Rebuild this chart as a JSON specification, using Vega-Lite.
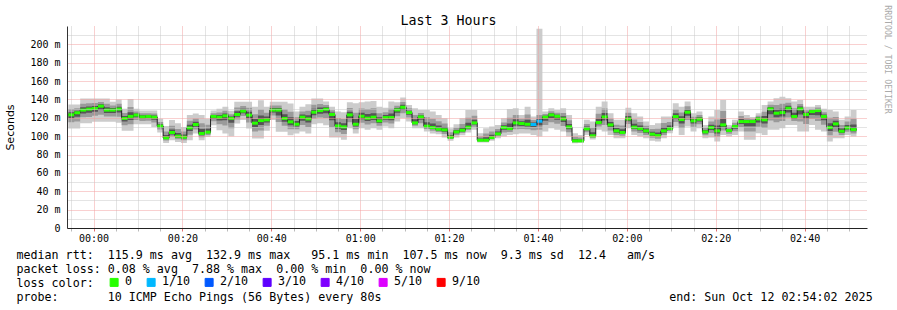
{
"$schema":"https://vega.github.io/schema/vega-lite/v6.json",
"width":800,"height":202,
"autosize":{"type":"none"},
"padding":{"left":67,"top":26,"right":30,"bottom":82},
"background":"white",
"config":{"view":{"stroke":null}},
"data":{"values":[
{"t":"2025-10-11T23:54:20Z","lo":108.4,"m1":115.1,"d1":119.6,"med":123.3,"d2":126.1,"m2":129.5,"hi":134.5,"loss":"0"},
{"t":"2025-10-11T23:55:40Z","lo":108.4,"m1":116.1,"d1":121.2,"med":125.5,"d2":127.8,"m2":130.5,"hi":134.5,"loss":"0"},
{"t":"2025-10-11T23:57:00Z","lo":114,"m1":120.5,"d1":124.8,"med":128.4,"d2":131.6,"m2":135.3,"hi":141,"loss":"0"},
{"t":"2025-10-11T23:58:20Z","lo":114,"m1":121,"d1":125.6,"med":129.5,"d2":132.4,"m2":135.8,"hi":141,"loss":"0"},
{"t":"2025-10-11T23:59:40Z","lo":115.6,"m1":122.2,"d1":126.6,"med":130.2,"d2":132.9,"m2":136.1,"hi":141,"loss":"0"},
{"t":"2025-10-12T00:01:00Z","lo":115.6,"m1":123.3,"d1":128.4,"med":132.7,"d2":134.8,"m2":137.3,"hi":141,"loss":"0"},
{"t":"2025-10-12T00:02:20Z","lo":115.6,"m1":121.4,"d1":125.2,"med":128.4,"d2":131.6,"m2":135.3,"hi":141,"loss":"0"},
{"t":"2025-10-12T00:03:40Z","lo":115.6,"m1":121.4,"d1":125.2,"med":128.4,"d2":130.7,"m2":133.4,"hi":137.5,"loss":"0"},
{"t":"2025-10-12T00:05:00Z","lo":114.5,"m1":121.3,"d1":125.8,"med":129.5,"d2":132.1,"m2":135.3,"hi":140,"loss":"0"},
{"t":"2025-10-12T00:06:20Z","lo":105.8,"m1":111.9,"d1":115.9,"med":119.3,"d2":122,"m2":125.2,"hi":130,"loss":"0"},
{"t":"2025-10-12T00:07:40Z","lo":105.8,"m1":112.9,"d1":117.6,"med":121.5,"d2":126.2,"m2":131.9,"hi":140.4,"loss":"0"},
{"t":"2025-10-12T00:09:00Z","lo":113,"m1":117.5,"d1":120.5,"med":123,"d2":124.8,"m2":126.9,"hi":130,"loss":"0"},
{"t":"2025-10-12T00:10:20Z","lo":113,"m1":116.6,"d1":119,"med":121,"d2":122.8,"m2":124.9,"hi":128,"loss":"0"},
{"t":"2025-10-12T00:11:40Z","lo":113,"m1":116.8,"d1":119.4,"med":121.5,"d2":123.1,"m2":125.1,"hi":128,"loss":"0"},
{"t":"2025-10-12T00:13:00Z","lo":110,"m1":114.8,"d1":118,"med":120.7,"d2":122.5,"m2":124.7,"hi":128,"loss":"0"},
{"t":"2025-10-12T00:14:20Z","lo":104,"m1":107.2,"d1":109.3,"med":111,"d2":113,"m2":115.4,"hi":119,"loss":"0"},
{"t":"2025-10-12T00:15:40Z","lo":92.7,"m1":95.2,"d1":96.8,"med":98.2,"d2":101.4,"m2":105.2,"hi":111,"loss":"0"},
{"t":"2025-10-12T00:17:00Z","lo":95.6,"m1":99.4,"d1":101.9,"med":104,"d2":107.4,"m2":111.4,"hi":117.5,"loss":"0"},
{"t":"2025-10-12T00:18:20Z","lo":93.8,"m1":96.6,"d1":98.5,"med":100,"d2":103.5,"m2":107.7,"hi":114,"loss":"0"},
{"t":"2025-10-12T00:19:40Z","lo":92.7,"m1":95.5,"d1":97.4,"med":98.9,"d2":101.7,"m2":105,"hi":110,"loss":"0"},
{"t":"2025-10-12T00:21:00Z","lo":95.6,"m1":101.6,"d1":105.7,"med":109,"d2":112.5,"m2":116.7,"hi":123,"loss":"0"},
{"t":"2025-10-12T00:22:20Z","lo":103,"m1":107.4,"d1":110.3,"med":112.7,"d2":115.7,"m2":119.3,"hi":124.7,"loss":"0"},
{"t":"2025-10-12T00:23:40Z","lo":95.6,"m1":98.9,"d1":101.1,"med":102.9,"d2":107.9,"m2":114,"hi":123,"loss":"0"},
{"t":"2025-10-12T00:25:00Z","lo":99,"m1":101.4,"d1":103.1,"med":104.4,"d2":108.1,"m2":112.4,"hi":119,"loss":"0"},
{"t":"2025-10-12T00:26:20Z","lo":112,"m1":116.3,"d1":119.1,"med":121.5,"d2":123.1,"m2":125.1,"hi":128,"loss":"0"},
{"t":"2025-10-12T00:27:40Z","lo":106.5,"m1":112.9,"d1":117.2,"med":120.7,"d2":123,"m2":125.8,"hi":130,"loss":"0"},
{"t":"2025-10-12T00:29:00Z","lo":103,"m1":111.6,"d1":117.4,"med":122.2,"d2":124.7,"m2":127.6,"hi":132,"loss":"0"},
{"t":"2025-10-12T00:30:20Z","lo":100,"m1":108.7,"d1":114.5,"med":119.3,"d2":121.4,"m2":123.9,"hi":127.6,"loss":"0"},
{"t":"2025-10-12T00:31:40Z","lo":113.8,"m1":118.2,"d1":121.2,"med":123.6,"d2":127.1,"m2":131.2,"hi":137.5,"loss":"0"},
{"t":"2025-10-12T00:33:00Z","lo":117.5,"m1":121.9,"d1":124.9,"med":127.3,"d2":129.9,"m2":132.9,"hi":137.5,"loss":"0"},
{"t":"2025-10-12T00:34:20Z","lo":108.4,"m1":114.9,"d1":119.3,"med":122.9,"d2":126.6,"m2":130.9,"hi":137.5,"loss":"0"},
{"t":"2025-10-12T00:35:40Z","lo":97.5,"m1":105,"d1":110,"med":114.2,"d2":118.7,"m2":124,"hi":132,"loss":"0"},
{"t":"2025-10-12T00:37:00Z","lo":97.5,"m1":106.3,"d1":112.1,"med":117,"d2":122.5,"m2":129.1,"hi":139,"loss":"0"},
{"t":"2025-10-12T00:38:20Z","lo":106,"m1":111.3,"d1":114.9,"med":117.8,"d2":121.4,"m2":125.6,"hi":132,"loss":"0"},
{"t":"2025-10-12T00:39:40Z","lo":117.5,"m1":122.4,"d1":125.7,"med":128.4,"d2":130.7,"m2":133.4,"hi":137.5,"loss":"0"},
{"t":"2025-10-12T00:41:00Z","lo":104.7,"m1":115.4,"d1":122.5,"med":128.4,"d2":130.7,"m2":133.4,"hi":137.5,"loss":"0"},
{"t":"2025-10-12T00:42:20Z","lo":104.7,"m1":111.3,"d1":115.7,"med":119.3,"d2":123.9,"m2":129.3,"hi":137.5,"loss":"0"},
{"t":"2025-10-12T00:43:40Z","lo":101,"m1":107.6,"d1":112,"med":115.6,"d2":120.6,"m2":126.6,"hi":135.6,"loss":"0"},
{"t":"2025-10-12T00:45:00Z","lo":103,"m1":107.5,"d1":110.5,"med":113,"d2":116.5,"m2":120.6,"hi":126.8,"loss":"0"},
{"t":"2025-10-12T00:46:20Z","lo":105,"m1":112.1,"d1":116.8,"med":120.7,"d2":123.5,"m2":126.9,"hi":132,"loss":"0"},
{"t":"2025-10-12T00:47:40Z","lo":103,"m1":110.1,"d1":114.9,"med":118.8,"d2":122.8,"m2":127.6,"hi":134.8,"loss":"0"},
{"t":"2025-10-12T00:49:00Z","lo":113,"m1":118.9,"d1":122.8,"med":126.1,"d2":129.8,"m2":134.3,"hi":141,"loss":"0"},
{"t":"2025-10-12T00:50:20Z","lo":114,"m1":120.3,"d1":124.4,"med":127.9,"d2":131.2,"m2":135.1,"hi":141,"loss":"0"},
{"t":"2025-10-12T00:51:40Z","lo":112,"m1":119.8,"d1":125,"med":129.3,"d2":131.4,"m2":133.9,"hi":137.7,"loss":"0"},
{"t":"2025-10-12T00:53:00Z","lo":98.5,"m1":109.8,"d1":117.3,"med":123.6,"d2":125.7,"m2":128.2,"hi":132,"loss":"0"},
{"t":"2025-10-12T00:54:20Z","lo":98.5,"m1":104.2,"d1":108,"med":111.2,"d2":115.1,"m2":119.8,"hi":126.8,"loss":"0"},
{"t":"2025-10-12T00:55:40Z","lo":96,"m1":102.3,"d1":106.6,"med":110.1,"d2":114.1,"m2":118.8,"hi":126,"loss":"0"},
{"t":"2025-10-12T00:57:00Z","lo":108.7,"m1":115.2,"d1":119.6,"med":123.2,"d2":126.7,"m2":130.8,"hi":137,"loss":"0"},
{"t":"2025-10-12T00:58:20Z","lo":103,"m1":107.5,"d1":110.5,"med":113,"d2":118.7,"m2":125.5,"hi":135.8,"loss":"0"},
{"t":"2025-10-12T00:59:40Z","lo":108.7,"m1":114.5,"d1":118.5,"med":121.7,"d2":125.5,"m2":130.1,"hi":137,"loss":"0"},
{"t":"2025-10-12T01:01:00Z","lo":107,"m1":112.7,"d1":116.5,"med":119.6,"d2":124.1,"m2":129.6,"hi":137.7,"loss":"0"},
{"t":"2025-10-12T01:02:20Z","lo":108.7,"m1":114.1,"d1":117.7,"med":120.7,"d2":125.1,"m2":130.4,"hi":138.4,"loss":"0"},
{"t":"2025-10-12T01:03:40Z","lo":107,"m1":111.4,"d1":114.3,"med":116.7,"d2":120.5,"m2":125.1,"hi":132,"loss":"0"},
{"t":"2025-10-12T01:05:00Z","lo":110.5,"m1":114.9,"d1":117.9,"med":120.3,"d2":123,"m2":126.2,"hi":131,"loss":"0"},
{"t":"2025-10-12T01:06:20Z","lo":108.7,"m1":113.9,"d1":117.4,"med":120.3,"d2":124.7,"m2":129.9,"hi":137.7,"loss":"0"},
{"t":"2025-10-12T01:07:40Z","lo":116,"m1":121.7,"d1":125.4,"med":128.6,"d2":130.7,"m2":133.2,"hi":137,"loss":"0"},
{"t":"2025-10-12T01:09:00Z","lo":119.6,"m1":125,"d1":128.5,"med":131.5,"d2":134.1,"m2":137.3,"hi":142,"loss":"0"},
{"t":"2025-10-12T01:10:20Z","lo":116,"m1":120.4,"d1":123.3,"med":125.7,"d2":127.8,"m2":130.3,"hi":134,"loss":"0"},
{"t":"2025-10-12T01:11:40Z","lo":108.7,"m1":111.3,"d1":113.1,"med":114.5,"d2":118.5,"m2":123.2,"hi":130.4,"loss":"0"},
{"t":"2025-10-12T01:13:00Z","lo":108.7,"m1":114.2,"d1":117.9,"med":121,"d2":122.9,"m2":125.2,"hi":128.6,"loss":"0"},
{"t":"2025-10-12T01:14:20Z","lo":105,"m1":107.7,"d1":109.4,"med":110.9,"d2":115.3,"m2":120.6,"hi":128.6,"loss":"0"},
{"t":"2025-10-12T01:15:40Z","lo":103,"m1":105.9,"d1":107.8,"med":109.4,"d2":113.8,"m2":119,"hi":126.8,"loss":"0"},
{"t":"2025-10-12T01:17:00Z","lo":102,"m1":104.5,"d1":106.2,"med":107.6,"d2":111.5,"m2":116.2,"hi":123.2,"loss":"0"},
{"t":"2025-10-12T01:18:20Z","lo":98.5,"m1":102.3,"d1":104.8,"med":106.9,"d2":110.1,"m2":113.9,"hi":119.6,"loss":"0"},
{"t":"2025-10-12T01:19:40Z","lo":95,"m1":96.8,"d1":97.9,"med":98.9,"d2":101.4,"m2":104.3,"hi":108.7,"loss":"0"},
{"t":"2025-10-12T01:21:00Z","lo":98.5,"m1":101.3,"d1":103.2,"med":104.7,"d2":106.8,"m2":109.3,"hi":113,"loss":"0"},
{"t":"2025-10-12T01:22:20Z","lo":101,"m1":103.5,"d1":105.1,"med":106.5,"d2":109.8,"m2":113.4,"hi":119.6,"loss":"0"},
{"t":"2025-10-12T01:23:40Z","lo":104,"m1":106.6,"d1":108.4,"med":109.8,"d2":114.5,"m2":120.1,"hi":128.6,"loss":"0"},
{"t":"2025-10-12T01:25:00Z","lo":107,"m1":110.4,"d1":112.6,"med":114.5,"d2":118,"m2":122.3,"hi":128.6,"loss":"0"},
{"t":"2025-10-12T01:26:20Z","lo":93,"m1":94.2,"d1":95,"med":95.6,"d2":97.5,"m2":99.8,"hi":103.3,"loss":"0"},
{"t":"2025-10-12T01:27:40Z","lo":93,"m1":94.2,"d1":95,"med":95.6,"d2":98.9,"m2":102.8,"hi":108.7,"loss":"0"},
{"t":"2025-10-12T01:29:00Z","lo":95,"m1":96.6,"d1":97.6,"med":98.5,"d2":101.5,"m2":105.1,"hi":110.5,"loss":"0"},
{"t":"2025-10-12T01:30:20Z","lo":97.8,"m1":99.9,"d1":101.3,"med":102.5,"d2":105,"m2":107.9,"hi":112.3,"loss":"0"},
{"t":"2025-10-12T01:31:40Z","lo":99.6,"m1":104,"d1":107,"med":109.4,"d2":112,"m2":115,"hi":119.6,"loss":"0"},
{"t":"2025-10-12T01:33:00Z","lo":101.4,"m1":104.5,"d1":106.6,"med":108.3,"d2":113.7,"m2":120.1,"hi":129.7,"loss":"0"},
{"t":"2025-10-12T01:34:20Z","lo":102,"m1":107.6,"d1":111.4,"med":114.5,"d2":118.5,"m2":123.2,"hi":130.4,"loss":"0"},
{"t":"2025-10-12T01:35:40Z","lo":103,"m1":107.9,"d1":111.1,"med":113.8,"d2":116.2,"m2":119,"hi":123.2,"loss":"0"},
{"t":"2025-10-12T01:37:00Z","lo":103,"m1":107.5,"d1":110.5,"med":113,"d2":117.8,"m2":123.5,"hi":132,"loss":"0"},
{"t":"2025-10-12T01:38:20Z","lo":101.4,"m1":106.5,"d1":109.9,"med":112.7,"d2":114.9,"m2":117.5,"hi":121.4,"loss":"1/10"},
{"t":"2025-10-12T01:39:40Z","lo":99.6,"m1":107,"d1":112,"med":116.3,"d2":119,"m2":123,"hi":217,"loss":"1/10"},
{"t":"2025-10-12T01:41:00Z","lo":105,"m1":112.1,"d1":116.8,"med":120.7,"d2":122.2,"m2":124.1,"hi":126.8,"loss":"0"},
{"t":"2025-10-12T01:42:20Z","lo":108.7,"m1":115.2,"d1":119.6,"med":123.2,"d2":125,"m2":127.2,"hi":130.4,"loss":"0"},
{"t":"2025-10-12T01:43:40Z","lo":107,"m1":113.6,"d1":118,"med":121.7,"d2":123.4,"m2":125.5,"hi":128.6,"loss":"0"},
{"t":"2025-10-12T01:45:00Z","lo":105,"m1":111.2,"d1":115.4,"med":118.8,"d2":121.7,"m2":125.2,"hi":130.4,"loss":"0"},
{"t":"2025-10-12T01:46:20Z","lo":99.6,"m1":104.3,"d1":107.5,"med":110.1,"d2":113.4,"m2":117.3,"hi":123.2,"loss":"0"},
{"t":"2025-10-12T01:47:40Z","lo":92.4,"m1":93.5,"d1":94.3,"med":94.9,"d2":97,"m2":99.5,"hi":103.3,"loss":"0"},
{"t":"2025-10-12T01:49:00Z","lo":92.5,"m1":93.6,"d1":94.3,"med":94.9,"d2":96.5,"m2":98.5,"hi":101.4,"loss":"0"},
{"t":"2025-10-12T01:50:20Z","lo":101.4,"m1":104.4,"d1":106.4,"med":108,"d2":110.5,"m2":113.4,"hi":117.8,"loss":"0"},
{"t":"2025-10-12T01:51:40Z","lo":96.5,"m1":98.3,"d1":99.4,"med":100.4,"d2":104.3,"m2":109,"hi":116,"loss":"0"},
{"t":"2025-10-12T01:53:00Z","lo":107,"m1":110.6,"d1":112.9,"med":114.9,"d2":119.2,"m2":124.3,"hi":132,"loss":"0"},
{"t":"2025-10-12T01:54:20Z","lo":105,"m1":112.2,"d1":117,"med":121,"d2":125.2,"m2":130.2,"hi":137.7,"loss":"0"},
{"t":"2025-10-12T01:55:40Z","lo":101.4,"m1":106.3,"d1":109.6,"med":112.3,"d2":115.5,"m2":119.3,"hi":125,"loss":"0"},
{"t":"2025-10-12T01:57:00Z","lo":97.8,"m1":101.4,"d1":103.8,"med":105.8,"d2":108.8,"m2":112.4,"hi":117.8,"loss":"0"},
{"t":"2025-10-12T01:58:20Z","lo":97.8,"m1":100.6,"d1":102.5,"med":104,"d2":107.5,"m2":111.6,"hi":117.8,"loss":"0"},
{"t":"2025-10-12T01:59:40Z","lo":108.7,"m1":113.2,"d1":116.3,"med":118.8,"d2":121.9,"m2":125.5,"hi":131,"loss":"0"},
{"t":"2025-10-12T02:01:00Z","lo":101.4,"m1":105.2,"d1":107.7,"med":109.8,"d2":113.6,"m2":118.2,"hi":125,"loss":"0"},
{"t":"2025-10-12T02:02:20Z","lo":99.6,"m1":103.5,"d1":106.1,"med":108.3,"d2":111.6,"m2":115.5,"hi":121.4,"loss":"0"},
{"t":"2025-10-12T02:03:40Z","lo":97.8,"m1":101.4,"d1":103.8,"med":105.8,"d2":108.4,"m2":111.4,"hi":116,"loss":"0"},
{"t":"2025-10-12T02:05:00Z","lo":95,"m1":98.2,"d1":100.4,"med":102.2,"d2":104.7,"m2":107.8,"hi":112.3,"loss":"0"},
{"t":"2025-10-12T02:06:20Z","lo":94.2,"m1":97.1,"d1":99.1,"med":100.7,"d2":104,"m2":108,"hi":114,"loss":"0"},
{"t":"2025-10-12T02:07:40Z","lo":97.8,"m1":101.4,"d1":103.8,"med":105.8,"d2":109.7,"m2":114.4,"hi":121.4,"loss":"0"},
{"t":"2025-10-12T02:09:00Z","lo":103.3,"m1":105.6,"d1":107.1,"med":108.3,"d2":111.6,"m2":115.5,"hi":121.4,"loss":"0"},
{"t":"2025-10-12T02:10:20Z","lo":110.5,"m1":115.4,"d1":118.7,"med":121.4,"d2":125,"m2":129.3,"hi":135.8,"loss":"0"},
{"t":"2025-10-12T02:11:40Z","lo":101.4,"m1":108.9,"d1":113.9,"med":118.1,"d2":121.6,"m2":125.7,"hi":132,"loss":"0"},
{"t":"2025-10-12T02:13:00Z","lo":110.5,"m1":117.5,"d1":122.2,"med":126.1,"d2":129,"m2":132.5,"hi":137.7,"loss":"0"},
{"t":"2025-10-12T02:14:20Z","lo":105,"m1":110.3,"d1":113.8,"med":116.7,"d2":118.8,"m2":121.3,"hi":125,"loss":"0"},
{"t":"2025-10-12T02:15:40Z","lo":108.7,"m1":113.1,"d1":116.1,"med":118.5,"d2":120.6,"m2":123.1,"hi":126.8,"loss":"0"},
{"t":"2025-10-12T02:17:00Z","lo":97.8,"m1":100.9,"d1":103,"med":104.7,"d2":106.6,"m2":108.9,"hi":112.3,"loss":"0"},
{"t":"2025-10-12T02:18:20Z","lo":98.5,"m1":103.4,"d1":106.7,"med":109.4,"d2":112.4,"m2":116,"hi":121.4,"loss":"0"},
{"t":"2025-10-12T02:19:40Z","lo":94.2,"m1":99.4,"d1":102.9,"med":105.8,"d2":111.5,"m2":118.3,"hi":128.6,"loss":"0"},
{"t":"2025-10-12T02:21:00Z","lo":101.4,"m1":106.3,"d1":109.6,"med":112.3,"d2":119.1,"m2":127.3,"hi":139.5,"loss":"0"},
{"t":"2025-10-12T02:22:20Z","lo":99.6,"m1":102.6,"d1":104.6,"med":106.2,"d2":107.7,"m2":109.6,"hi":112.3,"loss":"0"},
{"t":"2025-10-12T02:23:40Z","lo":101.4,"m1":105.5,"d1":108.2,"med":110.5,"d2":112.3,"m2":114.5,"hi":117.8,"loss":"0"},
{"t":"2025-10-12T02:25:00Z","lo":105,"m1":109.9,"d1":113.2,"med":115.9,"d2":118.6,"m2":121.9,"hi":126.8,"loss":"0"},
{"t":"2025-10-12T02:26:20Z","lo":96,"m1":105,"d1":110.9,"med":115.9,"d2":117.7,"m2":119.9,"hi":123.2,"loss":"0"},
{"t":"2025-10-12T02:27:40Z","lo":96,"m1":105,"d1":110.9,"med":115.9,"d2":117.2,"m2":118.8,"hi":121,"loss":"0"},
{"t":"2025-10-12T02:29:00Z","lo":103.3,"m1":110.3,"d1":114.9,"med":118.8,"d2":120.4,"m2":122.2,"hi":125,"loss":"0"},
{"t":"2025-10-12T02:30:20Z","lo":101.4,"m1":108.8,"d1":113.7,"med":117.8,"d2":121.9,"m2":126.7,"hi":134,"loss":"0"},
{"t":"2025-10-12T02:31:40Z","lo":107,"m1":117.2,"d1":124,"med":129.7,"d2":131.7,"m2":134.1,"hi":137.7,"loss":"0"},
{"t":"2025-10-12T02:33:00Z","lo":107,"m1":115.1,"d1":120.5,"med":125,"d2":129.1,"m2":134,"hi":141.3,"loss":"0"},
{"t":"2025-10-12T02:34:20Z","lo":108.7,"m1":116.4,"d1":121.5,"med":125.7,"d2":130,"m2":135.2,"hi":143,"loss":"0"},
{"t":"2025-10-12T02:35:40Z","lo":112.3,"m1":120.4,"d1":125.9,"med":130.4,"d2":133.1,"m2":136.4,"hi":141.3,"loss":"0"},
{"t":"2025-10-12T02:37:00Z","lo":112.3,"m1":116.4,"d1":119.1,"med":121.4,"d2":125.5,"m2":130.4,"hi":137.7,"loss":"0"},
{"t":"2025-10-12T02:38:20Z","lo":105,"m1":116.1,"d1":123.5,"med":129.7,"d2":132.2,"m2":135.1,"hi":139.5,"loss":"0"},
{"t":"2025-10-12T02:39:40Z","lo":105,"m1":113.4,"d1":119,"med":123.6,"d2":125.7,"m2":128.2,"hi":132,"loss":"0"},
{"t":"2025-10-12T02:41:00Z","lo":112.3,"m1":118.8,"d1":123.2,"med":126.8,"d2":128.1,"m2":129.7,"hi":132,"loss":"0"},
{"t":"2025-10-12T02:42:20Z","lo":107,"m1":116.4,"d1":122.7,"med":127.9,"d2":129.4,"m2":131.3,"hi":134,"loss":"0"},
{"t":"2025-10-12T02:43:40Z","lo":105,"m1":112.4,"d1":117.3,"med":121.4,"d2":123.6,"m2":126.1,"hi":130,"loss":"0"},
{"t":"2025-10-12T02:45:00Z","lo":94.2,"m1":101,"d1":105.6,"med":109.4,"d2":114.2,"m2":120,"hi":128.6,"loss":"0"},
{"t":"2025-10-12T02:46:20Z","lo":97.8,"m1":104.8,"d1":109.5,"med":113.4,"d2":116.8,"m2":120.8,"hi":126.8,"loss":"0"},
{"t":"2025-10-12T02:47:40Z","lo":97.8,"m1":101.2,"d1":103.5,"med":105.4,"d2":108.5,"m2":112.2,"hi":117.8,"loss":"0"},
{"t":"2025-10-12T02:49:00Z","lo":101.4,"m1":104.9,"d1":107.2,"med":109.1,"d2":112.2,"m2":115.9,"hi":121.4,"loss":"0"},
{"t":"2025-10-12T02:50:20Z","lo":99.6,"m1":103,"d1":105.3,"med":107.2,"d2":112.6,"m2":119,"hi":128.6,"loss":"0"},
{"t":"2025-10-12T02:51:40Z","lo":99.6,"m1":103,"d1":105.3,"med":107.2,"d2":112.6,"m2":119,"hi":128.6,"loss":"0"}
]},
"transform":[{"window":[{"op":"lead","field":"t","as":"t2"}],"sort":[{"field":"t"}]}],
"layer":[
 {"mark":{"type":"area","interpolate":"step-after","color":"#cccccc"},
  "encoding":{
   "x":{"field":"t","type":"temporal","scale":{"type":"utc","domain":[1760226842000,1760237642000],"nice":false},
    "axis":{
     "values":[1760226900000,1760227200000,1760227500000,1760227800000,1760228100000,1760228400000,1760228700000,1760229000000,1760229300000,1760229600000,1760229900000,1760230200000,1760230500000,1760230800000,1760231100000,1760231400000,1760231700000,1760232000000,1760232300000,1760232600000,1760232900000,1760233200000,1760233500000,1760233800000,1760234100000,1760234400000,1760234700000,1760235000000,1760235300000,1760235600000,1760235900000,1760236200000,1760236500000,1760236800000,1760237100000,1760237400000],
     "labelExpr":"utcminutes(datum.value) % 20 == 0 ? utcFormat(datum.value, '%H:%M') : ''",
     "labelFont":"DejaVu Sans Mono","labelFontSize":10,"labelColor":"#000","labelPadding":2.5,"labelOverlap":false,"labelFlush":false,
     "ticks":true,"tickSize":3,
     "tickColor":{"condition":{"test":"utcminutes(datum.value) % 20 == 0","value":"#e07070"},"value":"#bbbbbb"},
     "grid":true,
     "gridColor":{"condition":{"test":"utcminutes(datum.value) % 20 == 0","value":"#f2a0a0"},"value":"#c8c8c8"},
     "gridDash":[1,1],"gridWidth":1,"gridOpacity":1,
     "domainColor":"#222","domainWidth":1,"zindex":1,
     "title":["median rtt:\u00a0\u00a0115.9 ms avg\u00a0\u00a0132.9 ms max\u00a0\u00a0\u00a095.1 ms min\u00a0\u00a0107.5 ms now\u00a0\u00a09.3 ms sd\u00a0\u00a012.4\u00a0\u00a0\u00a0am/s",
              "packet loss: 0.08 % avg\u00a0\u00a07.88 % max\u00a0\u00a00.00 % min\u00a0\u00a00.00 % now",
              "loss color:",
              "probe:\u00a0\u00a0\u00a0\u00a0\u00a0\u00a0\u00a010 ICMP Echo Pings (56 Bytes) every 80s\u00a0\u00a0\u00a0\u00a0\u00a0\u00a0\u00a0\u00a0\u00a0\u00a0\u00a0\u00a0\u00a0\u00a0\u00a0\u00a0\u00a0\u00a0\u00a0\u00a0\u00a0\u00a0\u00a0\u00a0\u00a0\u00a0\u00a0\u00a0\u00a0\u00a0\u00a0\u00a0\u00a0\u00a0\u00a0\u00a0\u00a0\u00a0\u00a0\u00a0\u00a0end: Sun Oct 12 02:54:02 2025"],
     "titleFont":"DejaVu Sans Mono","titleFontSize":11.66,"titleFontWeight":"normal","titleColor":"#000",
     "titleAlign":"left","titleBaseline":"top","titleX":-51,"titleY":21.3,"titleLineHeight":14}},
   "y":{"field":"lo","type":"quantitative","scale":{"domain":[0,220],"nice":false},
    "axis":{"values":[0,10,20,30,40,50,60,70,80,90,100,110,120,130,140,150,160,170,180,190,200,210],
     "labelExpr":"datum.value % 20 == 0 ? (datum.value == 0 ? '0' : datum.value + ' m') : ''",
     "labelFont":"DejaVu Sans Mono","labelFontSize":10,"labelColor":"#000","labelPadding":7,"labelOverlap":false,
     "ticks":false,"domainColor":"#333","domainWidth":1,"zindex":1,
     "grid":true,
     "gridColor":{"condition":{"test":"datum.value % 20 == 0","value":"#f2a0a0"},"value":"#c8c8c8"},
     "gridDash":[1,1],"gridWidth":1,"gridOpacity":1,
     "title":"Seconds","titleFont":"DejaVu Sans","titleFontSize":11,"titleFontWeight":"normal","titleColor":"#000",
     "titleAngle":270,"titleX":-57,"titleY":101,"titleAlign":"center","titleBaseline":"middle"}},
   "y2":{"field":"hi"}}},
 {"mark":{"type":"area","interpolate":"step-after","color":"#9a9a9a"},
  "encoding":{
   "x":{"field":"t","type":"temporal","scale":{"type":"utc","domain":[1760226842000,1760237642000],"nice":false},
    "axis":{"orient":"top","labels":false,"ticks":false,"domain":false,"grid":false,
     "title":"Last 3 Hours","titleFont":"DejaVu Sans Mono","titleFontSize":13.3,"titleFontWeight":"normal","titleColor":"#000",
     "titleX":381,"titleY":-1.5,"titleAlign":"center","titleBaseline":"alphabetic"}},
   "y":{"field":"m1","type":"quantitative","scale":{"domain":[0,220],"nice":false},"axis":null},
   "y2":{"field":"m2"}}},
 {"mark":{"type":"area","interpolate":"step-after","color":"#555555"},
  "encoding":{
   "x":{"field":"t","type":"temporal","scale":{"type":"utc","domain":[1760226842000,1760237642000],"nice":false},"axis":null},
   "y":{"field":"d1","type":"quantitative","scale":{"domain":[0,220],"nice":false},"axis":null},
   "y2":{"field":"d2"}}},
 {"mark":{"type":"line","interpolate":"step-after","color":"#202020","strokeWidth":1},
  "encoding":{
   "x":{"field":"t","type":"temporal","scale":{"type":"utc","domain":[1760226842000,1760237642000],"nice":false},"axis":null},
   "y":{"field":"med","type":"quantitative","scale":{"domain":[0,220],"nice":false},
    "axis":{"orient":"right","labels":false,"ticks":false,"domain":false,"grid":false,
     "title":"RRDTOOL / TOBI OETIKER","titleFont":"DejaVu Sans Mono","titleFontSize":8.2,"titleFontWeight":"normal","titleColor":"#aaaaaa",
     "titleAngle":90,"titleX":19,"titleY":33,"titleAlign":"center","titleBaseline":"middle"}}}},
 {"transform":[{"filter":"datum.t2 != null"}],
  "mark":{"type":"rule","strokeWidth":3,"strokeCap":"butt"},
  "encoding":{
   "x":{"field":"t","type":"temporal","scale":{"type":"utc","domain":[1760226842000,1760237642000],"nice":false},"axis":null},
   "x2":{"field":"t2"},
   "y":{"field":"med","type":"quantitative","scale":{"domain":[0,220],"nice":false},"axis":null},
   "color":{"field":"loss","type":"nominal",
    "scale":{"domain":["0","1/10","2/10","3/10","4/10","5/10","9/10"],"range":["#26ff00","#00b8ff","#0059ff","#5e00ff","#7e00ff","#dd00ff","#ff0000"]},
    "legend":{"orient":"none","legendX":41.3,"legendY":250.5,"direction":"horizontal","padding":0,
     "title":null,
     "labelFont":"DejaVu Sans Mono","labelFontSize":11.66,"labelColor":"#000","labelOffset":5,"columnPadding":12,
     "symbolType":"square","symbolSize":64,"symbolStrokeWidth":1,
     "encode":{"symbols":{"update":{"fill":{"scale":"color","field":"value"},"stroke":{"value":"#000"},"strokeWidth":{"value":1},"opacity":{"value":1}}}}}}}}
],
"resolve":{"axis":{"x":"independent","y":"independent"}}
}
